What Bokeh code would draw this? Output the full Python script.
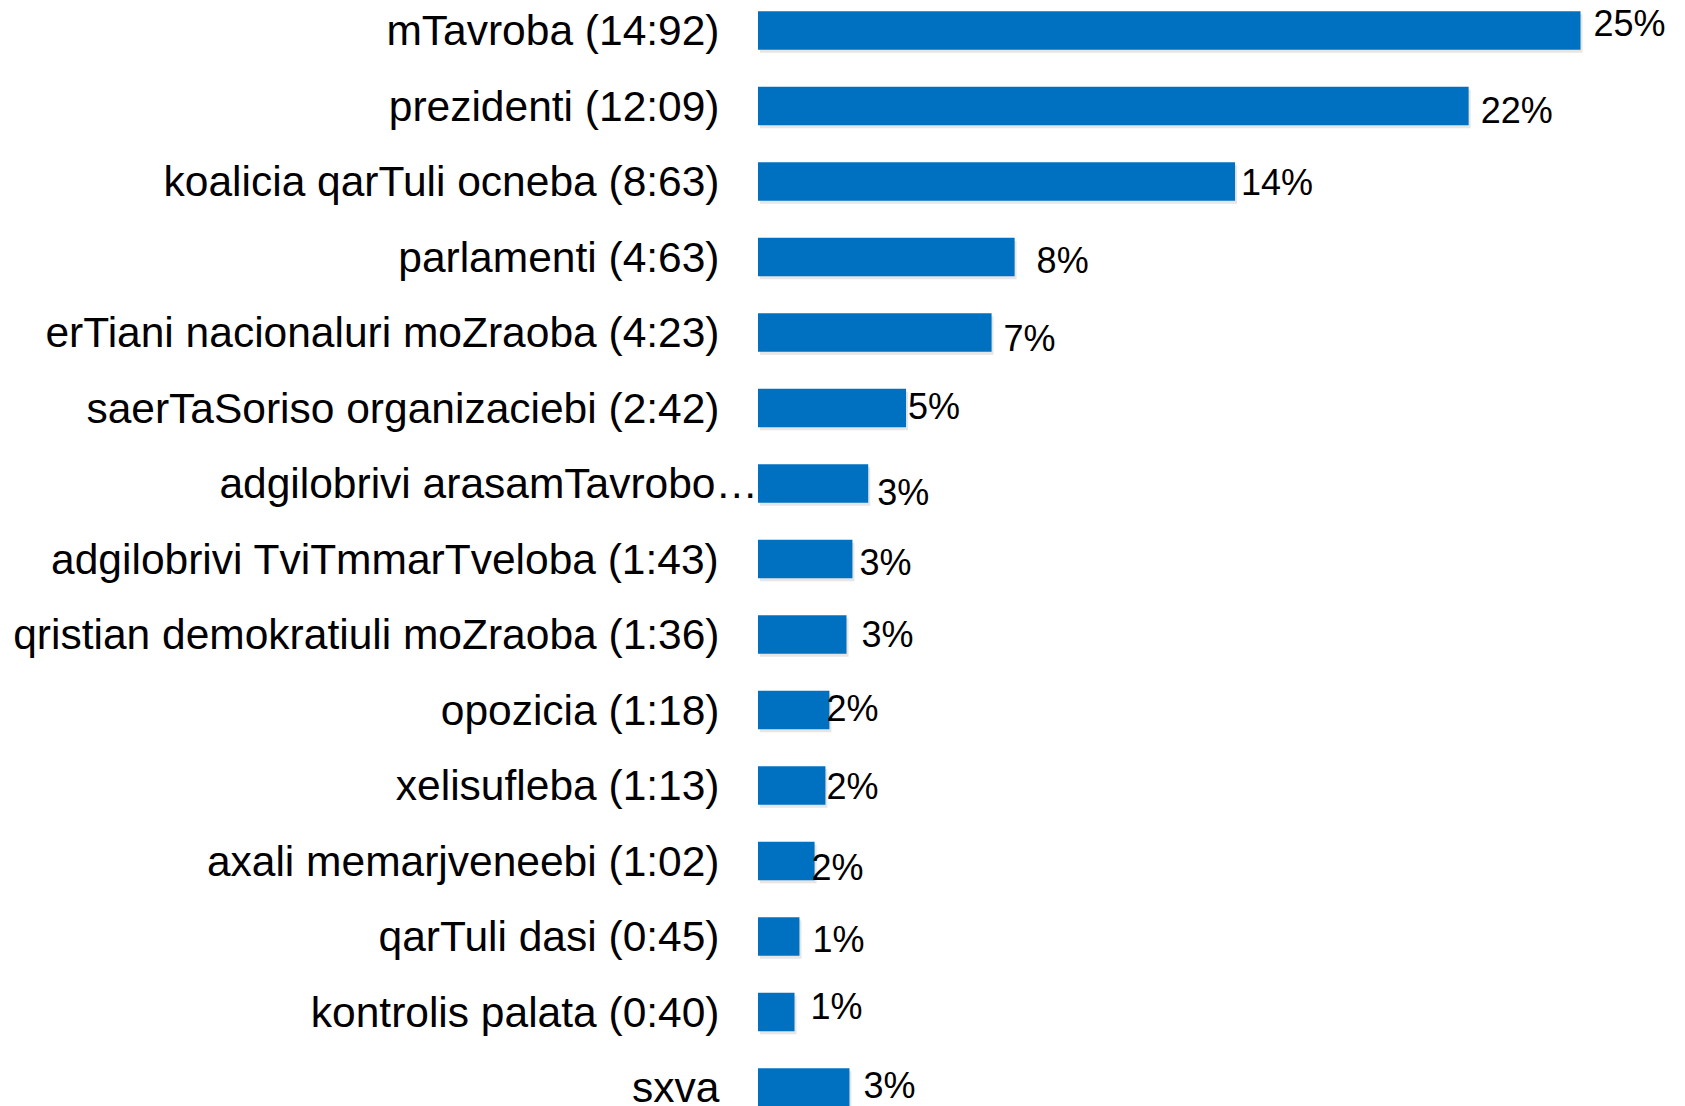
import numpy as np
from bokeh.plotting import figure
from bokeh.models import ColumnDataSource, Range1d
from bokeh.core.properties import value
from bokeh.embed import file_html
from bokeh.resources import INLINE

# ---- data ----
categories = [
    "mTavroba (14:92)",
    "prezidenti (12:09)",
    "koalicia qarTuli ocneba (8:63)",
    "parlamenti (4:63)",
    "erTiani nacionaluri moZraoba (4:23)",
    "saerTaSoriso organizaciebi (2:42)",
    "adgilobrivi arasamTavrobo\u2026",
    "adgilobrivi TviTmmarTveloba (1:43)",
    "qristian demokratiuli moZraoba (1:36)",
    "opozicia (1:18)",
    "xelisufleba (1:13)",
    "axali memarjveneebi (1:02)",
    "qarTuli dasi (0:45)",
    "kontrolis palata (0:40)",
    "sxva",
]
shares = [25.0, 21.6, 14.5, 7.8, 7.1, 4.5, 3.35, 2.87, 2.69, 2.17, 2.05, 1.72, 1.26, 1.11, 2.78]
share_labels = ["25%", "22%", "14%", "8%", "7%", "5%", "3%", "3%", "3%",
                "2%", "2%", "2%", "1%", "1%", "3%"]

# ---- layout / style ----
W, H = 1685, 1106
PX_PER_UNIT = 32.9
BAR_X0 = 757.5
ROW0 = 30.0
PITCH = 75.5
BAR_H = 0.51
FONT = "Liberation Sans"
CAT_FS = 42.5
VAL_FS = 36
BLUE = "#0070C0"

# per-label pixel nudges (label placement quirks of the original)
cat_dx = [-38.5] * len(categories)
cat_dx[6] = 0.0
val_dx = [13, 12, 6, 22, 12, 2, 9, 7, 15, -3, 1, -3, 13, 16, 14]
val_dy = [-7.5, 4, 1, 3.5, 6, -1.5, 8.5, 3, 0, -2, 1, 6.5, 3, -6, -2]

idx = np.arange(len(categories))

src = ColumnDataSource(dict(
    y=idx,
    share=shares,
    cat=categories,
    lab=share_labels,
    zero=[0.0] * len(categories),
    sh_y=idx + 3.0 / PITCH,
    sh_l=[2.0 / PX_PER_UNIT] * len(categories),
    sh_r=np.array(shares) + 2.0 / PX_PER_UNIT,
    cat_dx=cat_dx,
    cat_dy=[0.0] * len(categories),
    val_dx=val_dx,
    val_dy=val_dy,
))

p = figure(
    width=W, height=H,
    x_range=Range1d(-BAR_X0 / PX_PER_UNIT, (W - BAR_X0) / PX_PER_UNIT),
    y_range=Range1d((H - ROW0) / PITCH, -ROW0 / PITCH),
    output_backend="svg", toolbar_location=None,
    x_axis_location=None, y_axis_location=None,
    min_border=0, outline_line_color=None,
)
p.grid.visible = False
p.background_fill_color = "white"
p.border_fill_color = "white"

# soft shadow under the bars
p.hbar(y="sh_y", left="sh_l", right="sh_r", height=BAR_H, source=src,
       fill_color="#9a9a9a", fill_alpha=0.25, line_color=None)
# bars
p.hbar(y="y", left="zero", right="share", height=BAR_H, source=src,
       fill_color=BLUE, line_color=None)

# category labels
p.text(x="zero", y="y", text="cat", source=src, x_offset="cat_dx", y_offset="cat_dy",
       text_align="right", text_baseline="alphabetic",
       text_font=value(FONT), text_font_size=f"{CAT_FS}px", text_color="black")

# value labels
p.text(x="share", y="y", text="lab", source=src, x_offset="val_dx", y_offset="val_dy",
       text_align="left", text_baseline="alphabetic",
       text_font=value(FONT), text_font_size=f"{VAL_FS}px", text_color="black")

open("out.html", "w").write(file_html(p, INLINE))
